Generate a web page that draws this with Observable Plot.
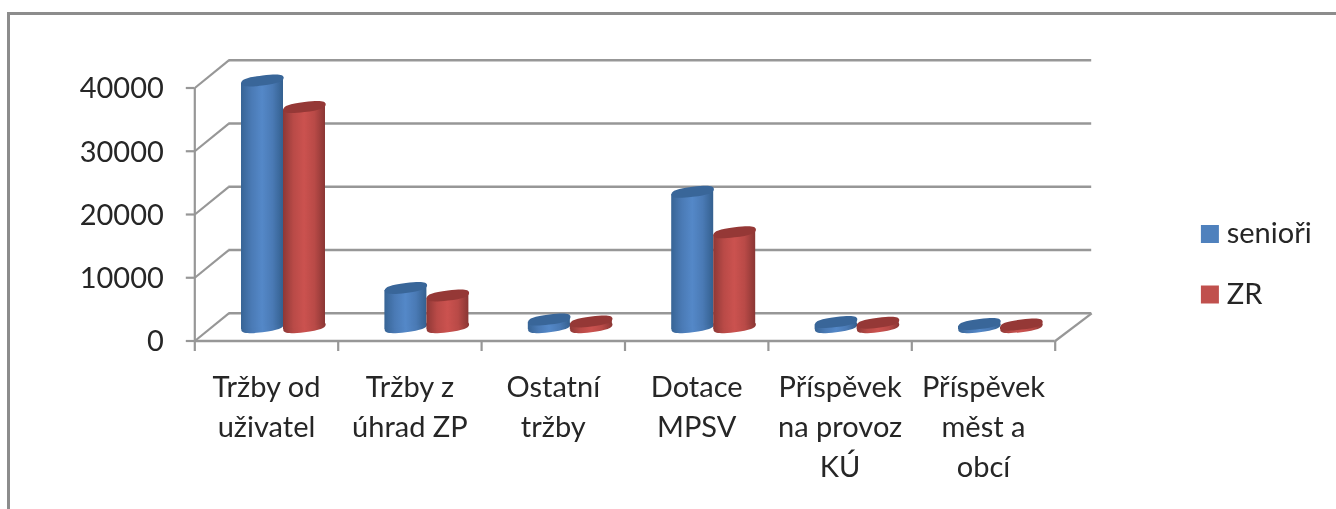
<!DOCTYPE html>
<html>
<head>
<meta charset="utf-8">
<script src="https://cdn.jsdelivr.net/npm/d3@7"></script>
<script src="https://cdn.jsdelivr.net/npm/@observablehq/plot@0.6"></script>
<style>
  html, body { margin: 0; padding: 0; background: #fff; overflow: hidden; }
  #page { position: relative; width: 1336px; height: 509px; overflow: hidden; }
  #frame { position: absolute; left: 7px; top: 12px; width: 1400px; height: 600px; border: 3px solid #8c8c8c; filter: blur(0.4px); }
  #chart { position: absolute; left: 0; top: 0; }
  #chart svg { display: block; background: transparent !important; filter: blur(0.45px); }
</style>
</head>
<body>
<div id="page"><div id="frame"></div><div id="chart"></div></div>
<script>
const categories = ["Tržby od\nuživatel", "Tržby z\núhrad ZP", "Ostatní\ntržby", "Dotace\nMPSV", "Příspěvek\nna provoz\nKÚ", "Příspěvek\nměst a\nobcí"];
const senioři = [39000, 6200, 1200, 21400, 800, 500];
const ZR = [34800, 5000, 900, 15000, 700, 400];
const yTicks = [0, 10000, 20000, 30000, 40000];
const seriesNames = ["senioři", "ZR"];
const seriesColors = ["#4f81bd", "#c0504d"];

const W = 1336, H = 509;
const marginLeft = 194.3, marginRight = 281.3, marginTop = 87.5, marginBottom = 168.5;
const pxX = (W - marginLeft - marginRight) / categories.length;   // pixels per category
const pxY = (H - marginTop - marginBottom) / 40000;               // pixels per unit
const depthX = 34 / pxX, depthY = 27.7 / pxY;                     // floor depth in data units
const backEnd = categories.length + 36.5 / pxX;
const barW = 42 / pxX;
const tilt = 2.6, semiB = 5;
const font = "Lato, Carlito, Calibri, sans-serif";
const axisColor = "#979797", textColor = "#262626";

const edges = d3.range(categories.length + 1);

function ellipse(ctx, size) {
  const a = Math.sqrt(size / Math.PI), K = 0.72;
  const P = (u, v) => [u * a, v * semiB - u * tilt];
  ctx.moveTo(...P(1, 0));
  ctx.bezierCurveTo(...P(1, K), ...P(K, 1), ...P(0, 1));
  ctx.bezierCurveTo(...P(-K, 1), ...P(-1, K), ...P(-1, 0));
  ctx.bezierCurveTo(...P(-1, -K), ...P(-K, -1), ...P(0, -1));
  ctx.bezierCurveTo(...P(K, -1), ...P(1, -K), ...P(1, 0));
  ctx.closePath();
}

function cylinders(values, side, grad, top) {
  const rows = values.map((v, i) => ({
    i,
    x: i + 0.5 + depthX / 2 + side * barW / 2,
    y0: depthY / 2,
    y1: v + depthY / 2
  }));
  const sides = rows.flatMap(r => [-1, 1].map(s => ({
    i: r.i,
    x: r.x + s * barW / 2,
    yb: r.y0 + s * tilt / pxY,
    yt: r.y1 + s * tilt / pxY
  })));
  const r = 21.2;
  return [
    Plot.dot(rows, {x: "x", y: "y0", r, symbol: {draw: ellipse}, fill: `url(#${grad})`, stroke: "none"}),
    Plot.areaY(sides, {x: "x", y1: "yb", y2: "yt", z: "i", fill: `url(#${grad})`}),
    Plot.dot(rows, {x: "x", y: "y1", r, symbol: {draw: ellipse}, fill: top, stroke: "none"})
  ];
}

function defs() {
  const d = d3.create("svg:defs");
  const stops = {
    gradBlue: ["#376495", "#4a7ab5", "#5488c8", "#4a7ab5", "#34608f"],
    gradRed: ["#8e3836", "#b94a47", "#cb524f", "#b94a47", "#8a3634"]
  };
  for (const id in stops) {
    const g = d.append("linearGradient").attr("id", id).attr("x1", 0).attr("x2", 1).attr("y1", 0).attr("y2", 0);
    stops[id].forEach((c, k, a) => g.append("stop").attr("offset", k / (a.length - 1)).attr("stop-color", c));
  }
  return d.node();
}

const legendX = 6 + 154.7 / pxX, legendTextX = 6 + 171.5 / pxX;
const legendY = [(340.5 - 233.5) / pxY, (340.5 - 294) / pxY];

const chart = Plot.plot({
  width: W, height: H, marginLeft, marginRight, marginTop, marginBottom,
  style: {fontFamily: font, background: "transparent"},
  x: {type: "linear", domain: [0, categories.length], axis: null},
  y: {domain: [0, 40000], axis: null},
  color: {type: "identity"},
  marks: [
    defs,
    // back wall grid
    Plot.ruleY(yTicks, {y: d => d + depthY, x1: depthX, x2: backEnd, stroke: axisColor, strokeWidth: 2.6}),
    // left wall slants
    Plot.link(yTicks, {x1: 0, y1: d => d, x2: depthX, y2: d => d + depthY, stroke: axisColor, strokeWidth: 2.2}),
    // floor right slant
    Plot.link([0], {x1: categories.length, y1: 0, x2: backEnd, y2: depthY, stroke: axisColor, strokeWidth: 2.2}),
    // front axes
    Plot.ruleX([0], {y1: 0, y2: 40000, stroke: axisColor, strokeWidth: 2.2}),
    Plot.ruleY([0], {x1: 0, x2: categories.length, stroke: axisColor, strokeWidth: 2.6}),
    Plot.ruleX(edges, {y1: 0, y2: -10.5 / pxY, stroke: axisColor, strokeWidth: 2.2}),
    Plot.ruleY(yTicks, {x1: -8.5 / pxX, x2: 0, stroke: axisColor, strokeWidth: 2.2}),
    // y labels
    Plot.axisY(yTicks, {anchor: "left", tickSize: 0, tickPadding: 31, dy: 1, tickFormat: "d", fontSize: 29, fill: textColor, label: null}),
    // cylinders
    ...cylinders(senioři, -1, "gradBlue", "#396699"),
    ...cylinders(ZR, 1, "gradRed", "#953836"),
    // category labels
    Plot.text(categories, {
      x: (d, i) => i + 0.5, y: 0, dy: 28, text: d => d,
      textAnchor: "middle", lineAnchor: "top", lineHeight: 1.38,
      fontSize: 29, fill: textColor
    }),
    // legend
    Plot.dot(seriesNames, {x: legendX, y: (d, i) => legendY[i], r: 18 / Math.sqrt(Math.PI), symbol: "square", fill: (d, i) => seriesColors[i]}),
    Plot.text(seriesNames, {x: legendTextX, y: (d, i) => legendY[i], text: d => d, textAnchor: "start", fontSize: 29, fill: textColor})
  ]
});
document.getElementById("chart").appendChild(chart);
</script>
</body>
</html>
